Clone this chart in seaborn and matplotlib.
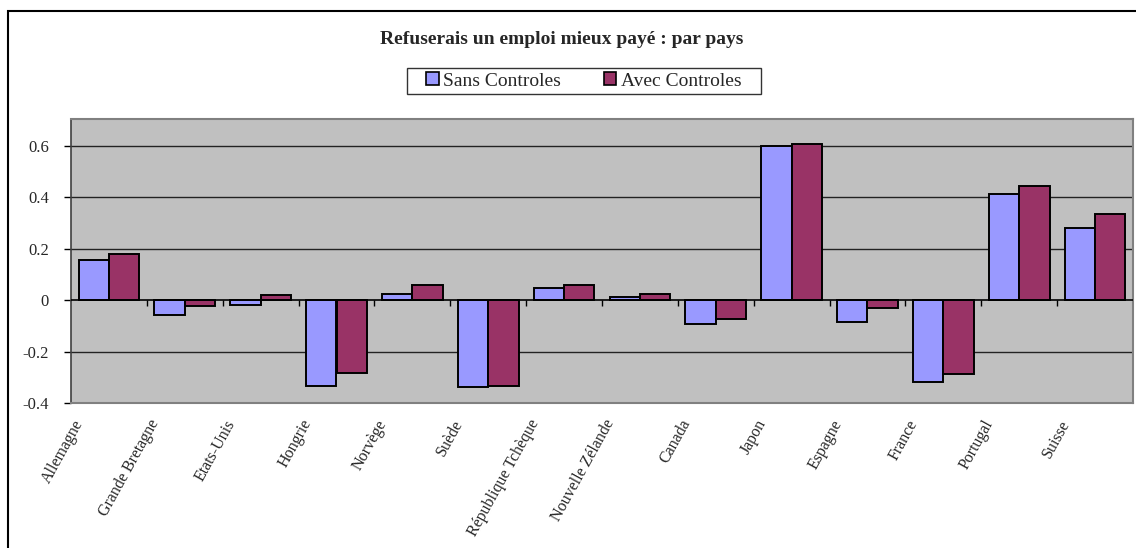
import pandas as pd
import matplotlib.pyplot as plt
import matplotlib.transforms as mtransforms
from matplotlib.patches import Rectangle
from matplotlib.ticker import FuncFormatter
import seaborn as sns

# Data
pays = ["Allemagne", "Grande Bretagne", "Etats-Unis", "Hongrie", "Norvège", "Suède",
        "République Tchèque", "Nouvelle Zélande", "Canada", "Japon", "Espagne",
        "France", "Portugal", "Suisse"]
sans_controles = [0.156, -0.056, -0.018, -0.333, 0.023, -0.336, 0.048, 0.013,
                  -0.093, 0.600, -0.084, -0.318, 0.413, 0.280]
avec_controles = [0.180, -0.022, 0.020, -0.284, 0.060, -0.333, 0.060, 0.026,
                  -0.074, 0.609, -0.030, -0.287, 0.445, 0.335]
series = ["Sans Controles", "Avec Controles"]
colors = ["#9999FF", "#993366"]
y_ticks = [-0.4, -0.2, 0, 0.2, 0.4, 0.6]

df = pd.DataFrame({
    "pays": pays * 2,
    "valeur": sans_controles + avec_controles,
    "serie": [series[0]] * len(pays) + [series[1]] * len(pays),
})

sns.set_style("white")
plt.rcParams['font.family'] = ['Liberation Serif', 'DejaVu Serif']
plt.rcParams['axes.unicode_minus'] = False

fig = plt.figure(figsize=(11.36, 5.48), dpi=100)
ax = fig.add_axes([71 / 1136, 1 - 403 / 548, 1062 / 1136, 284 / 548])
ax.set_facecolor("#C0C0C0")

sns.barplot(data=df, x="pays", y="valeur", hue="serie", palette=colors,
            saturation=1, edgecolor="black", linewidth=1.4, width=0.8,
            ax=ax, zorder=3)

ax.set_ylim(-0.4, 0.705)
ax.set_xlim(-0.5, len(pays) - 0.5)
ax.set_yticks(y_ticks)
ax.yaxis.set_major_formatter(FuncFormatter(lambda v, p: "%g" % round(v, 2)))
ax.tick_params(axis="y", length=5, width=1, color="black", labelsize=12,
               direction="out", left=True, pad=11)
for v in y_ticks:
    if v != 0:
        ax.axhline(v, color="#222222", lw=1, zorder=1)
ax.axhline(0, color="black", lw=1.2, zorder=4)

# category separators on the zero line
sep = ax.secondary_xaxis(0, transform=ax.transData)
sep.set_xticks([i + 0.5 for i in range(len(pays) - 1)])
sep.set_xticklabels([])
sep.tick_params(length=4, width=1, color="black", direction="out")
sep.spines["bottom"].set_visible(False)

ax.set_xlabel("")
ax.set_ylabel("")
ax.tick_params(axis="x", length=0, pad=10)
offset = mtransforms.ScaledTranslation(-36 / 100, 0, fig.dpi_scale_trans)
for lab in ax.get_xticklabels():
    lab.set_rotation(61)
    lab.set_ha("right")
    lab.set_rotation_mode("anchor")
    lab.set_fontsize(11.5)
    lab.set_transform(lab.get_transform() + offset)

for side in ["top", "right", "bottom"]:
    ax.spines[side].set_color("#808080")
    ax.spines[side].set_linewidth(1.5)
ax.spines["left"].set_color("#404040")
ax.spines["left"].set_linewidth(1.2)

ax.get_legend().remove()
handles = [Rectangle((0, 0), 1, 1, facecolor=c, edgecolor="black", lw=1.2) for c in colors]
leg = fig.legend(handles, series, loc="center", bbox_to_anchor=(584 / 1136, 1 - 81 / 548),
                 ncol=2, frameon=True, fancybox=False, fontsize=14, handlelength=0.62,
                 handleheight=0.62, handletextpad=0.25, columnspacing=2.2,
                 borderpad=0, borderaxespad=0, edgecolor="black")
frame = leg.get_frame()
frame.set_linewidth(1.0)
frame.set_boxstyle("square", pad=1.0)
frame.set_mutation_aspect(0.25)

fig.text(562 / 1136, 1 - 40 / 548, "Refuserais un emploi mieux payé : par pays",
         ha="center", va="center", fontsize=14, fontweight="bold")

# outer chart border
fig.patches.append(Rectangle((8 / 1136, -0.1), 1.2, 1.1 - 11 / 548,
                             transform=fig.transFigure, fill=False,
                             edgecolor="black", lw=1.5))

fig.savefig("out.png", dpi=100)
